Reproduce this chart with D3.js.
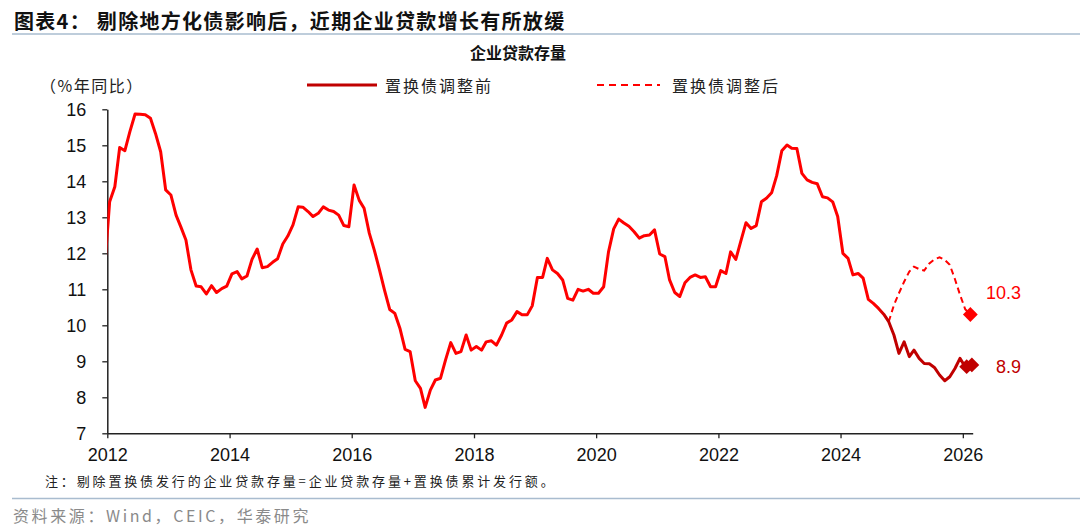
<!DOCTYPE html>
<html><head><meta charset="utf-8">
<script src="https://cdn.jsdelivr.net/npm/d3@7"></script>
<style>
body{margin:0;background:#fff;}
svg{display:block;}
</style></head><body>
<svg id="chart" width="1080" height="528"></svg>
<script>
// ---------- data ----------
const title = "图表4： 剔除地方化债影响后，近期企业贷款增长有所放缓";
const subtitle = "企业贷款存量";
const unitLabel = "（%年同比）";
const seriesNames = ["置换债调整前", "置换债调整后"];
const note = "注：剔除置换债发行的企业贷款存量=企业贷款存量+置换债累计发行额。";
const source = "资料来源：Wind，CEIC，华泰研究";

// monthly, starting Dec 2011
const solidStart = [2011, 12];
const solidValues = [
  11.5,
  13.43,13.85,14.94,14.85,15.38,15.87,15.86,15.85,15.75,15.33,14.82,13.76,
  13.62,13.06,12.74,12.37,11.54,11.09,11.07,10.87,11.10,10.91,11.02,11.09,
  11.43,11.49,11.29,11.37,11.83,12.12,11.60,11.63,11.75,11.85,12.26,12.48,
  12.79,13.29,13.28,13.16,13.02,13.11,13.29,13.20,13.16,13.06,12.77,12.74,
  13.90,13.47,13.25,12.56,12.09,11.54,10.98,10.44,10.33,9.92,9.33,9.27,
  8.46,8.25,7.72,8.20,8.48,8.53,9.04,9.52,9.22,9.27,9.73,9.31,
  9.41,9.31,9.54,9.57,9.45,9.73,10.06,10.15,10.38,10.29,10.29,10.54,
  11.33,11.33,11.86,11.54,11.44,11.26,10.75,10.70,11.00,10.95,11.00,10.89,
  10.89,11.07,12.04,12.68,12.95,12.84,12.75,12.60,12.42,12.49,12.51,12.65,
  11.98,11.91,11.26,10.91,10.80,11.18,11.33,11.40,11.33,11.35,11.07,11.07,
  11.52,11.44,12.04,11.83,12.34,12.85,12.69,12.77,13.43,13.53,13.68,14.15,
  14.85,15.01,14.92,14.91,14.22,14.04,13.97,13.93,13.57,13.54,13.43,13.02,
  12.00,11.86,11.40,11.44,11.31,10.72,10.61,10.47,10.31,10.10,9.73,9.22,
  9.54,9.13,9.31,9.08,8.94,8.93,8.83,8.62,8.46,8.57,8.80,9.08,
  8.85,8.90
];
// monthly, starting Oct 2024
const dashedStart = [2024, 10];
const dashedValues = [10.10,10.56,10.89,11.21,11.49,11.63,11.56,11.52,11.72,11.83,11.89,11.82,11.68,11.28,10.85,10.45,10.30];

const yTicks = [7,8,9,10,11,12,13,14,15,16];
const xTickYears = [2012,2014,2016,2018,2020,2022,2024,2026];
const endLabels = ["10.3", "8.9"];

// ---------- drawing ----------
const svg = d3.select("#chart");
const bright = "#FF0000", dark = "#C00000";
const cjk = "'Noto Sans CJK SC','Noto Sans',sans-serif";
const latin = "'Liberation Sans',Arial,sans-serif";

const x = d3.scaleTime().domain([new Date(2012,0,1), new Date(2026,2,1)]).range([107.3, 972.7]);
const y = d3.scaleLinear().domain([7,16]).range([433.3, 109.3]);

const toSeries = (start, vals) => vals.map((v,i) => ({date: new Date(start[0], start[1]-1+i, 15), v}));
const solid = toSeries(solidStart, solidValues);
const dashed = toSeries(dashedStart, dashedValues);

// title
svg.append("text").attr("x", 14).attr("y", 20).attr("dominant-baseline","central")
  .style("font-family", cjk).style("font-size","20px").style("font-weight","bold")
  .style("letter-spacing","1.3px").attr("fill","#111").text(title);
svg.append("line").attr("x1",12).attr("x2",1080).attr("y1",34).attr("y2",34)
  .attr("stroke","#a9bccf").attr("stroke-width",1.5);

svg.append("text").attr("x", 518).attr("y", 52).attr("text-anchor","middle").attr("dominant-baseline","central")
  .style("font-family", cjk).style("font-size","16px").style("font-weight","bold").attr("fill","#111").text(subtitle);

// legend
svg.append("text").attr("x", 40).attr("y", 85).attr("dominant-baseline","central")
  .style("font-family", cjk).style("font-size","16px").style("letter-spacing","1.5px").attr("fill","#222").text(unitLabel);
svg.append("line").attr("x1",307).attr("x2",377).attr("y1",85).attr("y2",85).attr("stroke",dark).attr("stroke-width",3);
svg.append("text").attr("x", 385).attr("y", 85).attr("dominant-baseline","central")
  .style("font-family", cjk).style("font-size","16px").style("letter-spacing","2px").attr("fill","#222").text(seriesNames[0]);
svg.append("line").attr("x1",597).attr("x2",660).attr("y1",85).attr("y2",85).attr("stroke",bright).attr("stroke-width",2)
  .attr("stroke-dasharray","7,5");
svg.append("text").attr("x", 672).attr("y", 85).attr("dominant-baseline","central")
  .style("font-family", cjk).style("font-size","16px").style("letter-spacing","2px").attr("fill","#222").text(seriesNames[1]);

// axes
const yAxis = d3.axisLeft(y).tickValues(yTicks).tickSize(5).tickSizeOuter(0).tickPadding(16).tickFormat(d3.format("d"));
const gy = svg.append("g").attr("transform", `translate(${x.range()[0]},0)`).call(yAxis);
const xAxis = d3.axisBottom(x).tickValues(xTickYears.map(yr => new Date(yr,0,1))).tickSize(5).tickSizeOuter(0).tickPadding(10)
  .tickFormat(d3.timeFormat("%Y"));
const gx = svg.append("g").attr("transform", `translate(0,${y(7)})`).call(xAxis);
[gx, gy].forEach(g => {
  g.select(".domain").attr("stroke","#222").attr("stroke-width",1.5);
  g.selectAll(".tick line").attr("stroke","#222").attr("stroke-width",1.3);
  g.selectAll("text").style("font-family", latin).style("font-size","18px").attr("fill","#111");
});

// gradient & clip
const defs = svg.append("defs");
defs.append("clipPath").attr("id","plotClip").append("rect")
  .attr("x", x.range()[0]).attr("y", 90).attr("width", x.range()[1]-x.range()[0]+2).attr("height", 350);
const grad = defs.append("linearGradient").attr("id","lineGrad").attr("gradientUnits","userSpaceOnUse")
  .attr("x1", x(new Date(2024,7,1))).attr("x2", x(new Date(2024,9,1))).attr("y1",0).attr("y2",0);
grad.append("stop").attr("offset","0%").attr("stop-color",bright);
grad.append("stop").attr("offset","100%").attr("stop-color",dark);

const line = d3.line().x(d => x(d.date)).y(d => y(d.v));
const plot = svg.append("g").attr("clip-path","url(#plotClip)");
plot.append("path").datum(dashed).attr("d", line).attr("fill","none").attr("stroke",bright)
  .attr("stroke-width",2).attr("stroke-dasharray","6,4");
plot.append("path").datum(solid).attr("d", line).attr("fill","none").attr("stroke","url(#lineGrad)")
  .attr("stroke-width",3).attr("stroke-linejoin","round");

// end markers
const diamond = d3.symbol().type(d3.symbolSquare).size(110);
const lastD = dashed[dashed.length-1];
svg.append("path").attr("d", diamond()).attr("fill",bright)
  .attr("transform", `translate(${x(lastD.date)},${y(lastD.v)}) rotate(45)`);
solid.slice(-2).forEach(d => {
  svg.append("path").attr("d", diamond()).attr("fill",dark)
    .attr("transform", `translate(${x(d.date)+1.5},${y(d.v)}) rotate(45)`);
});
const lastS = solid[solid.length-1];
svg.append("text").attr("x", 1021).attr("y", y(lastD.v) - 22).attr("text-anchor","end").attr("dominant-baseline","central")
  .style("font-family", latin).style("font-size","18px").attr("fill",bright).text(endLabels[0]);
svg.append("text").attr("x", 1021).attr("y", y(lastS.v) + 2).attr("text-anchor","end").attr("dominant-baseline","central")
  .style("font-family", latin).style("font-size","18px").attr("fill",dark).text(endLabels[1]);

// note & source
svg.append("text").attr("x", 45).attr("y", 480).attr("dominant-baseline","central")
  .style("font-family", cjk).style("font-size","13px").style("letter-spacing","2.85px").attr("fill","#222").text(note);
svg.append("line").attr("x1",12).attr("x2",1080).attr("y1",498.5).attr("y2",498.5)
  .attr("stroke","#a9bccf").attr("stroke-width",1.5);
svg.append("text").attr("x", 13).attr("y", 515).attr("dominant-baseline","central")
  .style("font-family", cjk).style("font-size","16px").style("letter-spacing","2.6px").attr("fill","#8a8a8a").text(source);
</script>
</body></html>
